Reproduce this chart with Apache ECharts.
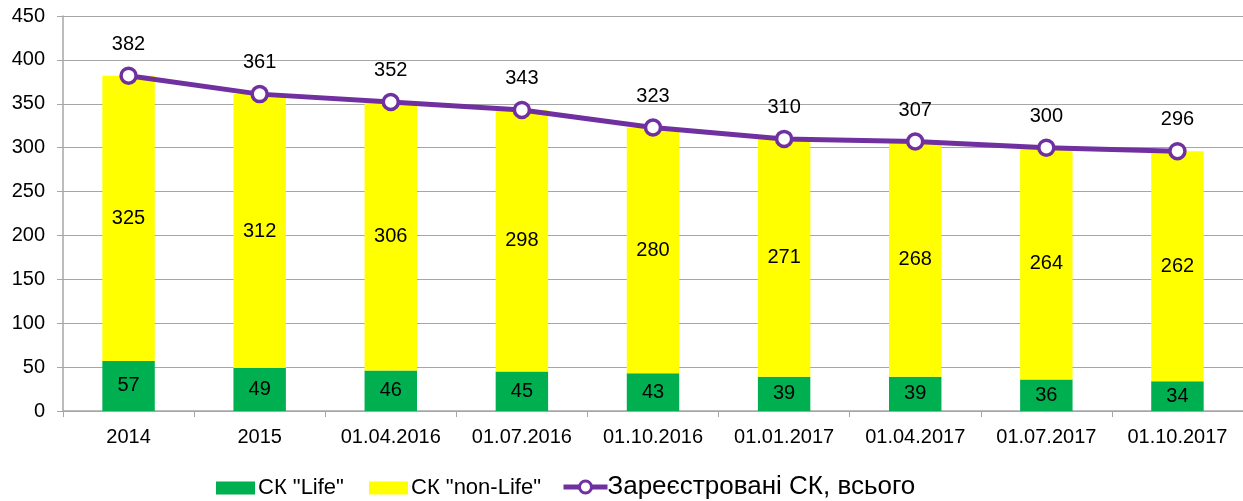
<!DOCTYPE html>
<html><head><meta charset="utf-8">
<script src="https://cdn.jsdelivr.net/npm/echarts@6/dist/echarts.min.js"></script>
<style>html,body{margin:0;padding:0;background:#fff}#c{width:1243px;height:501px}</style>
</head><body><div id="c"></div>
<script>
const categories = ['2014','2015','01.04.2016','01.07.2016','01.10.2016','01.01.2017','01.04.2017','01.07.2017','01.10.2017'];
const lifeValues = [57,49,46,45,43,39,39,36,34];
const nonLifeValues = [325,312,306,298,280,271,268,264,262];
const totalValues = [382,361,352,343,323,310,307,300,296];
const seriesNames = ['СК "Life"','СК "non-Life"','Зареєстровані СК, всього'];

const font = 'Liberation Sans, Arial, sans-serif';
const chart = echarts.init(document.getElementById('c'));
function leg(name, left, top, w, h, fs, pad, extra){
  return Object.assign({
    top:top, left:left, itemWidth:w, itemHeight:h, padding:0,
    textStyle:{fontSize:fs,color:'#000',fontFamily:font,padding:[0,0,0,pad]},
    data:[name]
  }, extra||{});
}
chart.setOption({
  animation:false,
  textStyle:{fontFamily:font},
  grid:{left:63,right:0,top:16,bottom:90},
  legend:[
    leg(seriesNames[0],216,477,39,13,22,-2,{icon:'rect'}),
    leg(seriesNames[1],369,477,39,13,22,-2,{icon:'rect'}),
    leg(seriesNames[2],561,474,44,15,26,-5,{
      lineStyle:{width:5,color:'#7030a0'},
      itemStyle:{color:'#fff',borderColor:'#7030a0',borderWidth:3}
    })
  ],
  xAxis:{
    type:'category', data:categories,
    axisLine:{lineStyle:{color:'#a6a6a6',width:1.5}},
    axisTick:{show:true,length:6,lineStyle:{color:'#a6a6a6'}},
    axisLabel:{fontSize:20,color:'#000',margin:16,fontFamily:font}
  },
  yAxis:{
    type:'value', min:0, max:450, interval:50,
    axisLine:{show:true,lineStyle:{color:'#a6a6a6',width:1.5}},
    axisTick:{show:true,length:6,lineStyle:{color:'#a6a6a6'}},
    splitLine:{lineStyle:{color:'#a6a6a6',width:1.2}},
    axisLabel:{fontSize:20,color:'#000',margin:18,fontFamily:font}
  },
  series:[
    {name:seriesNames[0],type:'bar',stack:'s',data:lifeValues,barWidth:'40%',
     itemStyle:{color:'#00b050'},
     label:{show:true,position:'inside',fontSize:20,color:'#000',fontFamily:font}},
    {name:seriesNames[1],type:'bar',stack:'s',data:nonLifeValues,barWidth:'40%',
     itemStyle:{color:'#ffff00'},
     label:{show:true,position:'inside',fontSize:20,color:'#000',fontFamily:font}},
    {name:seriesNames[2],type:'line',data:totalValues,
     lineStyle:{color:'#7030a0',width:5},
     itemStyle:{color:'#ffffff',borderColor:'#7030a0',borderWidth:3.5},
     symbol:'circle',symbolSize:15,
     label:{show:true,position:'top',distance:12,fontSize:20,color:'#000',fontFamily:font}}
  ]
});
</script></body></html>
